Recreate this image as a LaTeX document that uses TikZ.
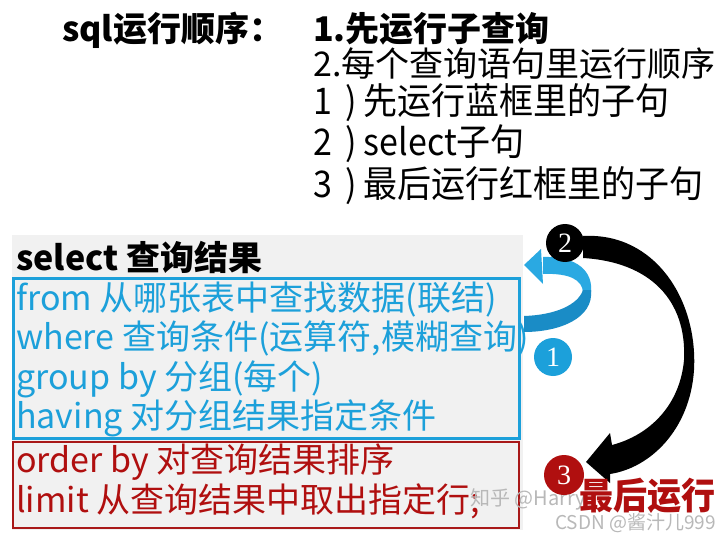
\documentclass[tikz,border=0pt]{standalone}
\usepackage{graphicx}
\usepackage{fontspec}
\setmainfont{Noto Sans CJK SC}
\newfontfamily\numfont{Liberation Serif}
\newcommand\tallt[1]{\scalebox{1}[1.08]{#1}}
\definecolor{sqlblue}{HTML}{1CA0DA}
\definecolor{sqlbluedark}{HTML}{1A8CC6}
\definecolor{sqlbluelight}{HTML}{2AA9E2}
\definecolor{sqlred}{HTML}{B00F0F}
\definecolor{boxred}{HTML}{A81818}
\definecolor{bggray}{HTML}{F1F1F1}
\definecolor{wmgray}{HTML}{B8B8B8}
\tikzset{
  txt/.style={inner sep=0pt, anchor=base west, font=\fontsize{34pt}{40pt}\selectfont},
  boldtxt/.style={txt, font=\fontsize{34pt}{40pt}\selectfont\bfseries},
  bluetxt/.style={txt, text=sqlblue},
  redtxt/.style={txt, text=sqlred},
  numtxt/.style={inner sep=0pt, text=white, font=\numfont\fontsize{28pt}{30pt}\selectfont},
  wm/.style={inner sep=0pt, anchor=base west, text=wmgray, font=\fontsize{20pt}{22pt}\selectfont}
}
\begin{document}
\begin{tikzpicture}[x=1pt, y=-1pt]
\useasboundingbox (0,0) rectangle (720,540);
\fill[white] (0,0) rectangle (720,540);

% top explanation
\node[boldtxt] (title) at (62,42) {sql运行顺序：};
\node[boldtxt] (s1) at (313,42) {1.先运行子查询};
\node[txt] (s2) at (313,77) {2.每个查询语句里运行顺序};
\node[txt] (s3) at (313,115) {\tallt{1\hspace{0.4em})\hspace{0.2em}先运行蓝框里的子句}};
\node[txt] (s4) at (313,156) {\tallt{2\hspace{0.4em})\hspace{0.2em}select子句}};
\node[txt] (s5) at (313,197) {\tallt{3\hspace{0.4em})\hspace{0.2em}最后运行红框里的子句}};

% background and boxes
\fill[bggray] (12,235) rectangle (523,530);
\draw[sqlblue, line width=3pt] (13,278) rectangle (519,438);
\draw[boxred, line width=2.5pt] (13,442) rectangle (519,528);

\node[boldtxt] (sel) at (16,270) {select 查询结果};
\node[bluetxt] (from) at (16,310) {from 从哪张表中查找数据(联结)};
\node[bluetxt] (where) at (16,349) {where 查询条件(运算符,模糊查询)};
\node[bluetxt] (group) at (16,389) {group by 分组(每个)};
\node[bluetxt] (having) at (16,428) {having 对分组结果指定条件};
\node[redtxt] (order) at (16,472) {order by 对查询结果排序};
\node[redtxt] (limit) at (16,512) {limit 从查询结果中取出指定行;};

% watermark
\node[wm] (wm1) at (470,505) {知乎 @Harry};

% black curved arrow from 2 to 3
\fill[black] (583,236) .. controls (655,232) and (698,300) .. (694,370)
  .. controls (690,430) and (650,468) .. (610,474)
  -- (610,483) -- (586,462) -- (610,433) -- (612,445)
  .. controls (650,435) and (680,405) .. (684,360)
  .. controls (687,300) and (650,262) .. (583,258) -- cycle;

% cyan looping arrow
\fill[sqlbluelight] (543,257) .. controls (578,256) and (593,272) .. (591,292)
  -- (583,292) .. controls (582,280) and (570,273) .. (543,274) -- cycle;
\fill[sqlbluelight] (524,265) -- (541,249) -- (543,284) -- cycle;
\fill[sqlbluedark] (583,290) -- (591,290) .. controls (594,318) and (560,332) .. (524,332)
  -- (524,316) .. controls (555,315) and (578,305) .. (583,290) -- cycle;

% numbered circles
\fill[black] (565,243) circle (19pt);
\node[numtxt] (c2) at (565,243) {2};
\fill[sqlblue] (553,357) circle (19pt);
\node[numtxt] (c1) at (553,357) {1};
\fill[sqlred] (564,475) circle (20pt);
\node[numtxt] (c3) at (564,475) {3};

\node[boldtxt, text=sqlred] (last) at (579,509) {\tallt{最后运行}};
\node[wm, font=\fontsize{19pt}{21pt}\selectfont] (wm2) at (555,529) {CSDN @酱汁儿999};
\end{tikzpicture}
\end{document}
